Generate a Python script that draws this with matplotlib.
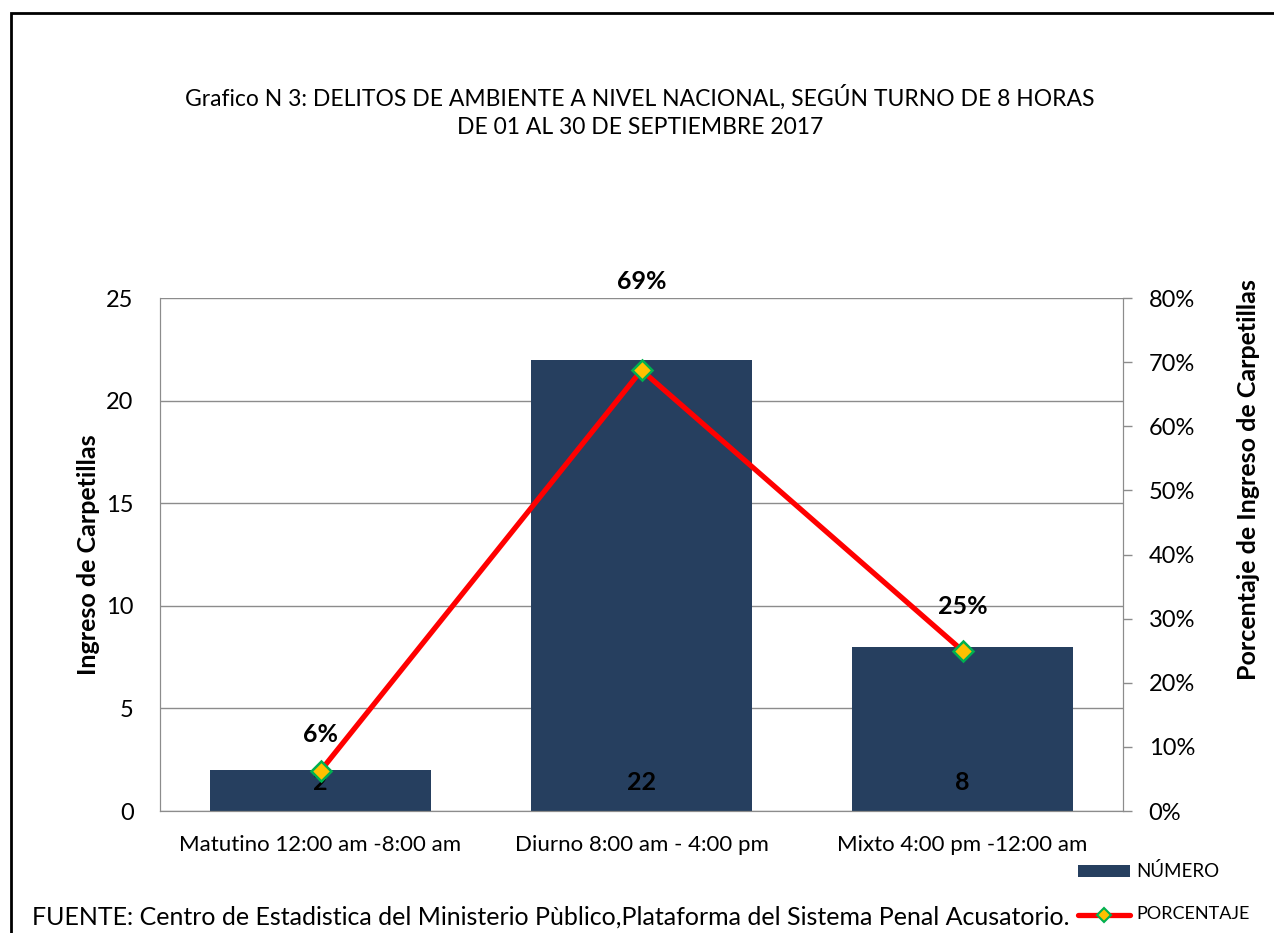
import matplotlib.pyplot as plt
from matplotlib.patches import Rectangle
from matplotlib.lines import Line2D
from matplotlib.ticker import FuncFormatter

plt.rcParams['font.family'] = ['Lato', 'DejaVu Sans']

turnos = ["Matutino 12:00 am -8:00 am", "Diurno 8:00 am - 4:00 pm", "Mixto 4:00 pm -12:00 am"]
numero = [2, 22, 8]
porcentaje = [0.0625, 0.6875, 0.25]
pct_labels = ["6%", "69%", "25%"]

bar_color = "#263F5F"

fig = plt.figure(figsize=(12.74, 9.33), dpi=100)
W, H = 1274, 933
ax = fig.add_axes([160 / W, 1 - 811 / H, (1123 - 160) / W, (811 - 298) / H])
ax2 = ax.twinx()

x = range(len(turnos))
ax.bar(x, numero, width=0.69, color=bar_color, zorder=2)
ax.set_xlim(-0.5, 2.5)
ax.set_ylim(0, 25)
ax.set_yticks([0, 5, 10, 15, 20, 25])
ax.grid(axis='y', color='#8c8c8c', linewidth=1, zorder=0)
ax.set_axisbelow(True)
ax.tick_params(axis='y', length=0, labelsize=17, pad=19)
ax.tick_params(axis='x', length=0, labelsize=16, pad=17)
ax.set_xticks(list(x))
ax.set_xticklabels(turnos)

for s in ['top']:
    ax.spines[s].set_visible(False)
    ax2.spines[s].set_visible(False)
for s in ['left', 'bottom', 'right']:
    ax.spines[s].set_color('#8c8c8c')
    ax2.spines[s].set_color('#8c8c8c')

for i, v in enumerate(numero):
    ax.text(i, 1.4, str(v), ha='center', va='center', fontsize=18, fontweight='bold', zorder=5)

ax2.plot(list(x), porcentaje, color='#ff0000', linewidth=3.8, marker='D', markersize=10,
         markerfacecolor='#FFC000', markeredgecolor='#00B050', markeredgewidth=1.8, zorder=4)
ax2.set_ylim(0, 0.8)
ax2.set_yticks([0, 0.1, 0.2, 0.3, 0.4, 0.5, 0.6, 0.7, 0.8])
ax2.yaxis.set_major_formatter(FuncFormatter(lambda v, p: f"{v*100:.0f}%"))
ax2.tick_params(axis='y', length=6.5, width=1, color='#8c8c8c', labelsize=17, pad=12)

offsets = [26, 64, 32]
for i, (p, lab) in enumerate(zip(porcentaje, pct_labels)):
    ax2.annotate(lab, (i, p), xytext=(0, offsets[i]), textcoords='offset points',
                 ha='center', va='center', fontsize=18, fontweight='bold')

fig.text(88 / W, 1 - 555 / H, "Ingreso de Carpetillas", rotation=90, ha='center', va='center',
         fontsize=18, fontweight='bold')
fig.text(1248 / W, 1 - 480 / H, "Porcentaje de Ingreso de Carpetillas", rotation=90, ha='center', va='center',
         fontsize=18, fontweight='bold')

fig.text(640 / W, 1 - 97 / H, "Grafico N 3: DELITOS DE AMBIENTE A NIVEL NACIONAL, SEGÚN TURNO DE 8 HORAS",
         ha='center', va='center', fontsize=16.5)
fig.text(640 / W, 1 - 128 / H, "DE 01 AL 30 DE SEPTIEMBRE 2017", ha='center', va='center', fontsize=16.5)

fig.text(32 / W, 1 - 917 / H, "FUENTE: Centro de Estadistica del Ministerio Pùblico,Plataforma del Sistema Penal Acusatorio.",
         ha='left', va='center', fontsize=18)

# frame
fig.patches.append(Rectangle((11 / W, -0.05), 1.1, 1 - 13 / H + 0.05, transform=fig.transFigure,
                             fill=False, edgecolor='black', linewidth=2))

# legend
fig.patches.append(Rectangle((1078 / W, 1 - 877 / H), 52 / W, 12 / H, transform=fig.transFigure,
                             facecolor=bar_color, edgecolor='none'))
fig.text(1136 / W, 1 - 871 / H, "NÚMERO", ha='left', va='center', fontsize=13.5)
fig.lines.append(Line2D([1078 / W, 1130 / W], [1 - 915 / H, 1 - 915 / H], transform=fig.transFigure,
                        color='#ff0000', linewidth=3.8, solid_capstyle='round'))
fig.lines.append(Line2D([1104 / W], [1 - 915 / H], transform=fig.transFigure, marker='D', markersize=7,
                        markerfacecolor='#FFC000', markeredgecolor='#00B050', markeredgewidth=1.5))
fig.text(1136 / W, 1 - 914 / H, "PORCENTAJE", ha='left', va='center', fontsize=13)

fig.savefig("out.png", dpi=100)
